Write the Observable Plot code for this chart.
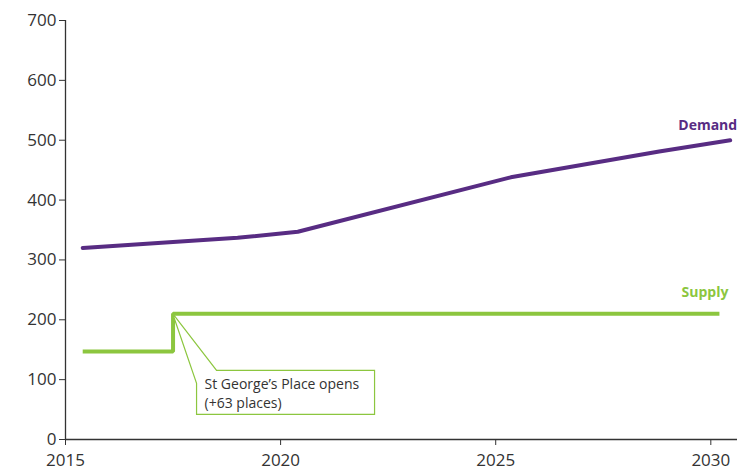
<!DOCTYPE html>
<html>
<head>
<meta charset="utf-8">
<script src="https://cdn.jsdelivr.net/npm/d3@7"></script>
<script src="https://cdn.jsdelivr.net/npm/@observablehq/plot@0.6"></script>
<style>
  html, body { margin: 0; padding: 0; background: #fff; }
  svg { font-family: "Open Sans", sans-serif; }
</style>
</head>
<body>
<div id="chart"></div>
<script>
// Demand series (year, places)
const demandYears = [2015.4, 2017.5, 2019.0, 2020.4, 2025.35, 2028.8, 2030.45];
const demandValues = [320, 330, 337, 347, 438, 481, 500];
// Supply series (step)
const supplyYears = [2015.4, 2017.5, 2017.5, 2030.2];
const supplyValues = [147, 147, 210, 210];
// Axis ticks
const xTicks = [2015, 2020, 2025, 2030];
const yTicks = [0, 100, 200, 300, 400, 500, 600, 700];
// Labels and annotation
const seriesLabels = ["Demand", "Supply"];
const annotationLines = ["St George’s Place opens", "(+63 places)"];
const annotationAnchor = {year: 2017.5, value: 210};

const purple = "#582c83";
const green = "#8cc63f";

const demand = demandYears.map((y, i) => ({year: y, value: demandValues[i]}));
const supply = supplyYears.map((y, i) => ({year: y, value: supplyValues[i]}));

const callout = (index, scales, values, dimensions, context) => {
  const ax = scales.x(annotationAnchor.year);
  const ay = scales.y(annotationAnchor.value);
  const g = d3.create("svg:g");
  const left = ax + 24, top = ay + 57, right = ax + 202, bottom = ay + 101;
  const notchX = ax + 44, notchY = ay + 70;
  const pts = [[left, bottom], [left, notchY], [ax, ay], [notchX, top], [right, top], [right, bottom]];
  g.append("path")
    .attr("d", "M" + pts.map(p => p.join(",")).join("L") + "Z")
    .attr("fill", "white")
    .attr("stroke", green)
    .attr("stroke-width", 1.2);
  const t = g.append("text")
    .attr("font-size", 14)
    .attr("fill", "#333")
    .attr("text-anchor", "start")
    .attr("font-family", "Open Sans, sans-serif");
  annotationLines.forEach((line, i) => {
    t.append("tspan").attr("x", left + 8).attr("y", top + 19 + i * 19).text(line);
  });
  return g.node();
};

const chart = Plot.plot({
  width: 737,
  height: 472,
  marginLeft: 65,
  marginRight: 0,
  marginTop: 20,
  marginBottom: 33,
  style: {fontFamily: "Open Sans, sans-serif", color: "#333", background: "white"},
  x: {domain: [2015, 2030.62], ticks: xTicks},
  y: {domain: [0, 700], ticks: yTicks},
  marks: [
    Plot.axisX({ticks: xTicks, tickSize: 6, tickPadding: 8, tickFormat: d => String(d), fontSize: 17, stroke: "#333", fill: "#333", label: null}),
    Plot.axisY({ticks: yTicks, tickSize: 6, tickPadding: 3, fontSize: 17, stroke: "#333", fill: "#333", label: null}),
    Plot.ruleY([0], {stroke: "#333", strokeWidth: 1.3}),
    Plot.ruleX([2015], {stroke: "#333", strokeWidth: 1.3}),
    Plot.line(demand, {x: "year", y: "value", stroke: purple, strokeWidth: 4, strokeLinecap: "round"}),
    Plot.line(supply, {x: "year", y: "value", stroke: green, strokeWidth: 4, strokeLinecap: "butt", strokeLinejoin: "miter"}),
    callout,
    Plot.text([demand[demand.length - 1]], {x: "year", y: "value", text: () => seriesLabels[0], textAnchor: "end", dx: 7, dy: -15, fill: purple, fontWeight: "bold", fontSize: 14}),
    Plot.text([supply[supply.length - 1]], {x: "year", y: "value", text: () => seriesLabels[1], textAnchor: "end", dx: 9, dy: -21, fill: green, fontWeight: "bold", fontSize: 14})
  ]
});
document.getElementById("chart").appendChild(chart);
</script>
</body>
</html>
